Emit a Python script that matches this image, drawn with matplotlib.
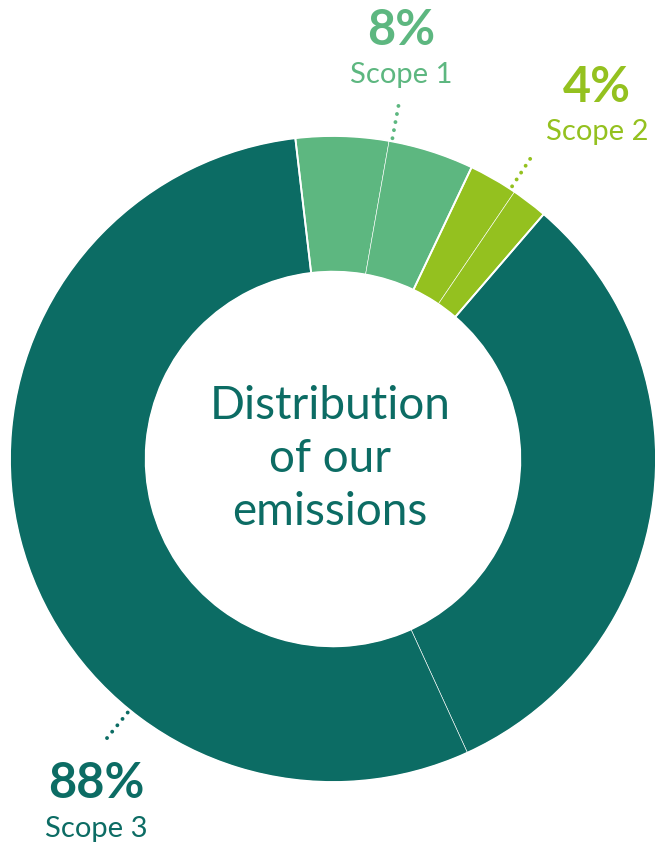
import numpy as np
import matplotlib
matplotlib.use("Agg")
import matplotlib.pyplot as plt

# shares as drawn (each scope is drawn in two pieces, like the original)
scopes = ["Scope 1", "Scope 2", "Scope 3"]
labels_pct = ["8%", "4%", "88%"]
sub_values = [[4.64, 4.28], [2.44, 1.81], [31.86, 54.97]]
colors = ["#5db780", "#94c11f", "#0c6c64"]

TEAL = "#0c6c64"
FONT = "Lato"

fig = plt.figure(figsize=(6.55, 8.43), dpi=100)
ax = fig.add_axes([0, 0, 1, 1])

start = 90 + 6.7
flat_vals = [v for grp in sub_values for v in grp]
flat_cols = [c for c, grp in zip(colors, sub_values) for _ in grp]
ax.pie(flat_vals, colors=flat_cols, startangle=start, counterclock=False,
       radius=1.0, wedgeprops=dict(width=0.42, edgecolor="white", linewidth=0.4))
# main boundaries a bit thicker
ax.pie([sum(g) for g in sub_values], colors=["none"] * 3, startangle=start,
       counterclock=False, radius=1.0,
       wedgeprops=dict(width=0.42, edgecolor="white", linewidth=1.3, facecolor="none"))

# pixel layout: centre (333, 459), outer radius 323 px -> 1 unit (after pie, which resets limits)
ax.set_xlim(-333 / 323, (655 - 333) / 323)
ax.set_ylim((459 - 843) / 323, 459 / 323)
ax.set_aspect("equal")
ax.axis("off")

# dotted leaders (angle clockwise from 12 o'clock)
leader_angles = [10.5, 33.3, 219.0]
for ang, col in zip(leader_angles, colors):
    a = np.deg2rad(90 - ang)
    r = np.array([1.01, 1.13])
    ax.plot(r * np.cos(a), r * np.sin(a), color=col, lw=2.8,
            linestyle=(0, (0.01, 2.1)), dash_capstyle="round", solid_capstyle="round")

# labels (baseline positions)
label_pos = [(0.210, 1.282, 1.164), (0.817, 1.105, 0.988), (-0.734, -1.050, -1.170)]
for (x, yp, ys), pct, name, col in zip(label_pos, labels_pct, scopes, colors):
    ax.text(x, yp, pct, ha="center", va="baseline", color=col,
            fontsize=35, fontweight="bold", family=FONT)
    ax.text(x, ys, name, ha="center", va="baseline", color=col,
            fontsize=21, fontweight="normal", family=FONT)

ax.text(-0.01, 0.0, "Distribution\nof our\nemissions", ha="center", va="center",
        color=TEAL, fontsize=33, fontweight="normal", family=FONT, linespacing=1.33)

fig.savefig("out.png", dpi=100)
